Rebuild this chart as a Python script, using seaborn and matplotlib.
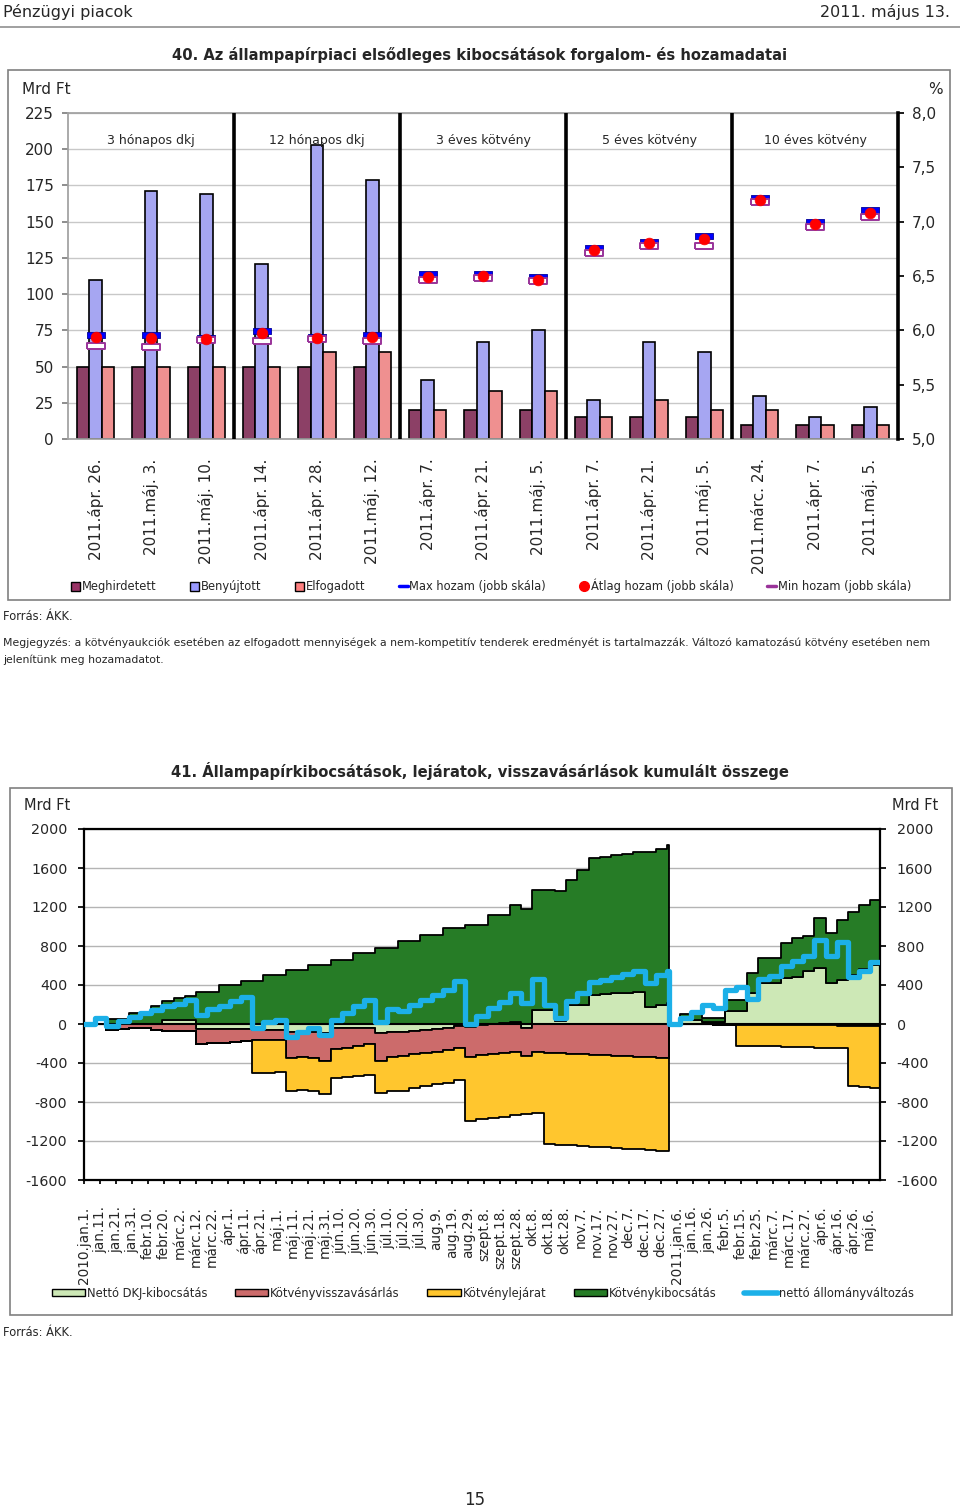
import numpy as np
import pandas as pd
import matplotlib
matplotlib.use("Agg")
import matplotlib.pyplot as plt
from matplotlib.patches import Patch, Rectangle
from matplotlib.lines import Line2D
from matplotlib.ticker import FuncFormatter
import seaborn as sns

# -----------------------------
# 40. chart: auctions (Mrd Ft) and yields (%)
# -----------------------------
auction_dates = ["2011.ápr. 26.", "2011.máj. 3.", "2011.máj. 10.",
                 "2011.ápr. 14.", "2011.ápr. 28.", "2011.máj. 12.",
                 "2011.ápr. 7.", "2011.ápr. 21.", "2011.máj. 5.",
                 "2011.ápr. 7.", "2011.ápr. 21.", "2011.máj. 5.",
                 "2011.márc. 24.", "2011.ápr. 7.", "2011.máj. 5."]
paper_groups = ["3 hónapos dkj", "12 hónapos dkj", "3 éves kötvény", "5 éves kötvény", "10 éves kötvény"]
group_sizes = [3, 3, 3, 3, 3]
announced = [50, 50, 50, 50, 50, 50, 20, 20, 20, 15, 15, 15, 10, 10, 10]
submitted = [110, 171, 169, 121, 203, 179, 41, 67, 75, 27, 67, 60, 30, 15, 22]
accepted = [50, 50, 50, 50, 60, 60, 20, 33, 33, 15, 27, 20, 20, 10, 10]
yield_max = [5.96, 5.96, 5.93, 5.99, 5.94, 5.96, 6.52, 6.52, 6.49, 6.76, 6.81, 6.87, 7.22, 7.00, 7.11]
yield_avg = [5.94, 5.93, 5.92, 5.98, 5.93, 5.94, 6.49, 6.50, 6.46, 6.74, 6.80, 6.84, 7.20, 6.98, 7.08]
yield_min = [5.86, 5.85, 5.91, 5.90, 5.92, 5.90, 6.46, 6.48, 6.45, 6.71, 6.78, 6.78, 7.18, 6.95, 7.04]

# -----------------------------
# 41. chart: cumulative issuance / maturities / buybacks (weekly, Mrd Ft)
# -----------------------------
week_dates = list(pd.date_range("2010-01-01", "2010-12-31", freq="7D")) + \
             list(pd.date_range("2011-01-01", "2011-05-13", freq="7D"))
dkj_net = [0, 0, 0, 0, 0, 0, 0, 40, 46, 46, -55, -55, -50, -50, -50, -60, -60, -60,
           -80, -80, -80, -90, -40, -40, -40, -40, -90, -85, -80, -70, -60, -50, -40, -20,
           -30, -10, 0, 10, 20, -40, 148, 148, 30, 200, 200, 302, 310, 315, 320, 330, 170, 190, 217,
           0, 40, 45, 20, 25, 131, 131, 319, 421, 421, 470, 480, 541, 575, 421, 455, 500, 560, 610]
bond_issue = [0, 0, 53, 53, 114, 114, 183, 200, 219, 244, 326, 326, 398, 398, 446, 446, 507, 507,
              551, 551, 602, 602, 660, 660, 729, 729, 780, 780, 847, 847, 916, 916, 985, 985,
              1019, 1019, 1121, 1111, 1204, 1180, 1231, 1231, 1331, 1280, 1382, 1400, 1405, 1415, 1425, 1430,
              1590, 1610, 1622,
              0, 60, 80, 40, 40, 120, 120, 205, 257, 257, 360, 400, 359, 513, 513, 616, 650, 660, 665]
bond_buyback = [0, 0, -60, -50, -40, -40, -60, -70, -70, -70, -145, -140, -140, -130, -120, -100, -100, -100,
                -267, -260, -265, -290, -220, -210, -190, -160, -290, -255, -250, -240, -240, -240, -230, -230,
                -310, -310, -310, -300, -290, -290, -290, -295, -300, -305, -310, -315, -320, -325, -330, -335,
                -340, -345, -347,
                -2, -3, -4, -5, -6, -7, -8, -9, -10, -10, -11, -12, -13, -14, -15, -16, -18, -20, -22]
bond_maturity = [0] * 15 + [-340, -340, -335, -341, -340, -345, -340, -290, -295, -305, -325, -325, -350, -360,
                            -350, -340, -330, -330, -325, -650, -650, -650, -650, -640, -590, -620, -939, -940,
                            -940, -940, -945, -945, -945, -950, -950, -950, -953, -955] + \
                [0, 0, 0, 0, 0, 0, -215, -215, -218, -220, -222, -224, -226, -228, -230, -232, -620, -625, -630]
net_change = [0, 60, -20, 30, 75, 110, 140, 180, 210, 250, 90, 150, 183, 234, 280, -40, 20, 40,
              -130, -80, -40, -110, 46, 110, 183, 250, 20, 150, 131, 190, 250, 300, 350, 440,
              0, 80, 160, 230, 320, 216, 462, 200, 60, 240, 319, 430, 450, 480, 510, 545, 420, 500, 542,
              0, 63, 120, 200, 160, 353, 380, 260, 460, 490, 590, 650, 695, 866, 695, 840, 480, 540, 640]
tick_labels_41 = ["2010.jan.1.", "jan.11.", "jan.21.", "jan.31.", "febr.10.", "febr.20.", "márc.2.",
                  "márc.12.", "márc.22.", "ápr.1.", "ápr.11.", "ápr.21.", "máj.1.", "máj.11.", "máj.21.",
                  "máj.31.", "jún.10.", "jún.20.", "jún.30.", "júl.10.", "júl.20.", "júl.30.", "aug.9.",
                  "aug.19.", "aug.29.", "szept.8.", "szept.18.", "szept.28.", "okt.8.", "okt.18.", "okt.28.",
                  "nov.7.", "nov.17.", "nov.27.", "dec.7.", "dec.17.", "dec.27.", "2011.jan.6.", "jan.16.",
                  "jan.26.", "febr.5.", "febr.15.", "febr.25.", "márc.7.", "márc.17.", "márc.27.", "ápr.6.",
                  "ápr.16.", "ápr.26.", "máj.6."]

sns.set_theme(style="white")
plt.rcParams["font.family"] = ["DejaVu Sans"]
plt.rcParams["axes.unicode_minus"] = False

W, H = 960, 1511
fig = plt.figure(figsize=(W / 100, H / 100), dpi=100)


def fx(px):
    return px / W


def fy(py):
    return 1 - py / H


def box(x0, y0, x1, y1, color="#808080"):
    fig.add_artist(Rectangle((fx(x0), fy(y1)), fx(x1) - fx(x0), (y1 - y0) / H, fill=False,
                             edgecolor=color, lw=1.2, transform=fig.transFigure))


# page header
fig.text(fx(3), fy(12), "Pénzügyi piacok", fontsize=11.5, va="center", ha="left")
fig.text(fx(950), fy(12), "2011. május 13.", fontsize=11.5, va="center", ha="right")
fig.add_artist(Line2D([0, 1], [fy(27), fy(27)], color="#909090", lw=1.2, transform=fig.transFigure))

# -----------------------------
# chart 40
# -----------------------------
fig.text(fx(480), fy(55), "40. Az állampapírpiaci elsődleges kibocsátások forgalom- és hozamadatai",
         fontsize=10.6, fontweight="bold", ha="center", va="center")
box(8, 70, 950, 600)

ax1 = fig.add_axes([fx(68), fy(439), fx(898) - fx(68), (439 - 113) / H])
n = len(auction_dates)
series_names = ["Meghirdetett", "Benyújtott", "Elfogadott"]
bar_colors = ["#993366", "#9999ff", "#ff8080"]
df_bars = pd.DataFrame({
    "pos": list(range(n)) * 3,
    "series": np.repeat(series_names, n),
    "value": announced + submitted + accepted,
})
sns.barplot(data=df_bars, x="pos", y="value", hue="series", hue_order=series_names,
            palette=bar_colors, width=0.68, edgecolor="black", linewidth=1.2,
            ax=ax1, legend=False, zorder=2)
ax1.set_xlim(-0.5, n - 0.5)
ax1.set_ylim(0, 225)
ax1.set_yticks(range(0, 226, 25))
ax1.yaxis.grid(True, color="#c8c8c8", lw=1)
ax1.set_axisbelow(True)
ax1.set_xticks(range(n))
ax1.set_xticklabels(auction_dates, rotation=90, fontsize=11, va="top")
ax1.tick_params(axis="x", length=0, pad=14)
ax1.tick_params(axis="y", length=4, color="#808080", labelsize=11, pad=6, left=True)
ax1.set_xlabel("")
ax1.set_ylabel("")
for s in ["left", "bottom", "top"]:
    ax1.spines[s].set_color("#a0a0a0")
ax1.spines["right"].set_visible(False)

bounds = np.cumsum(group_sizes)[:-1] - 0.5
for b in bounds:
    ax1.axvline(b, color="black", lw=2.6, zorder=3)
starts = np.concatenate([[0], np.cumsum(group_sizes)[:-1]])
for name, st, sz in zip(paper_groups, starts, group_sizes):
    ax1.text(st + (sz - 1) / 2, 206, name, ha="center", va="center", fontsize=9)

ax2 = ax1.twinx()
ax2.set_ylim(5.0, 8.0)
ax2.set_yticks(np.arange(5.0, 8.01, 0.5))
ax2.yaxis.set_major_formatter(FuncFormatter(lambda v, p: f"{v:.1f}".replace(".", ",")))
ax2.tick_params(axis="y", length=4, labelsize=11, pad=6, right=True, color="black")
ax2.grid(False)
for s in ["left", "bottom", "top"]:
    ax2.spines[s].set_visible(False)
ax2.spines["right"].set_color("black")
ax2.spines["right"].set_linewidth(2.6)

rect = [(-1, -0.33), (1, -0.33), (1, 0.33), (-1, 0.33), (-1, -0.33)]
pos = np.arange(n)
sns.scatterplot(x=pos, y=yield_max, marker=rect, s=170, color="#0000ff", edgecolor="#000099",
                linewidth=0.6, ax=ax2, legend=False, zorder=4)
sns.scatterplot(x=pos, y=yield_min, marker=rect, s=170, color="white", edgecolor="#993399",
                linewidth=1.4, ax=ax2, legend=False, zorder=5)
sns.scatterplot(x=pos, y=yield_avg, marker="o", s=60, color="#ff0000", edgecolor="#ff0000",
                linewidth=0.5, ax=ax2, legend=False, zorder=6)
ax2.set_xlim(-0.5, n - 0.5)

fig.text(fx(22), fy(90), "Mrd Ft", fontsize=11, va="center", ha="left")
fig.text(fx(943), fy(90), "%", fontsize=11, va="center", ha="right")

h40 = [Patch(facecolor=c, edgecolor="black", lw=1) for c in bar_colors] + [
    Line2D([], [], color="#0000ff", lw=2.5),
    Line2D([], [], color="#ff0000", marker="o", ls="none", markersize=7),
    Line2D([], [], color="#993399", lw=2.5)]
l40 = series_names + ["Max hozam (jobb skála)", "Átlag hozam (jobb skála)", "Min hozam (jobb skála)"]
fig.legend(h40, l40, loc="center", bbox_to_anchor=(fx(491), fy(586)), ncol=6, frameon=False,
           fontsize=8.3, handlelength=0.8, handleheight=0.8, handletextpad=0.15, columnspacing=2.9)

fig.text(fx(3), fy(617), "Forrás: ÁKK.", fontsize=8.3, va="center", ha="left")
fig.text(fx(3), fy(643),
         "Megjegyzés: a kötvényaukciók esetében az elfogadott mennyiségek a nem-kompetitív tenderek "
         "eredményét is tartalmazzák. Változó kamatozású kötvény esetében nem",
         fontsize=7.8, va="center", ha="left")
fig.text(fx(3), fy(660), "jelenítünk meg hozamadatot.", fontsize=7.8, va="center", ha="left")

# -----------------------------
# chart 41
# -----------------------------
fig.text(fx(480), fy(771), "41. Állampapírkibocsátások, lejáratok, visszavásárlások kumulált összege",
         fontsize=10.6, fontweight="bold", ha="center", va="center")
box(10, 788, 952, 1315)

ax3 = fig.add_axes([fx(84), fy(1180), fx(880) - fx(84), (1180 - 829) / H])
x_end = pd.Timestamp("2011-05-13")
xs = pd.DatetimeIndex(week_dates + [x_end])


def ext(v):
    v = np.asarray(v, dtype=float)
    return np.append(v, v[-1])


dkj = ext(dkj_net)
dkj_pos = np.clip(dkj, 0, None)
dkj_neg = np.clip(dkj, None, 0)
kib_top = dkj_pos + ext(bond_issue)
vis_bot = dkj_neg + ext(bond_buyback)
lej_bot = vis_bot + ext(bond_maturity)

c_dkj, c_vis, c_lej, c_kib, c_net = "#cde8b6", "#cc6b6b", "#ffc62e", "#267c26", "#1cb0e8"
edge = dict(edgecolor="black", linewidth=1.3, step="post")
ax3.fill_between(xs, 0, dkj_pos, facecolor=c_dkj, zorder=2, **edge)
ax3.fill_between(xs, dkj_pos, kib_top, facecolor=c_kib, zorder=2, **edge)
ax3.fill_between(xs, dkj_neg, 0, facecolor=c_dkj, zorder=2, **edge)
ax3.fill_between(xs, vis_bot, dkj_neg, facecolor=c_vis, zorder=2, **edge)
ax3.fill_between(xs, lej_bot, vis_bot, facecolor=c_lej, zorder=2, **edge)
ax3.axhline(0, color="black", lw=1.5, zorder=3)
sns.lineplot(x=xs, y=ext(net_change), drawstyle="steps-post", color=c_net, lw=3.8, ax=ax3, zorder=4)

ax3.set_xlim(pd.Timestamp("2010-01-01"), x_end)
ax3.set_ylim(-1600, 2000)
ax3.set_yticks(range(-1600, 2001, 400))
ax3.yaxis.grid(True, color="#b4b4b4", lw=1)
ax3.set_axisbelow(True)
ax3.set_xticks(pd.date_range("2010-01-01", periods=len(tick_labels_41), freq="10D"))
ax3.set_xticklabels(tick_labels_41, rotation=90, fontsize=9.8, va="top")
ax3.tick_params(axis="x", length=3, pad=16, bottom=True, color="black")
ax3.tick_params(axis="y", length=4, labelsize=10.3, pad=8, left=True, right=True,
                labelleft=True, labelright=True, color="black")
ax3.set_xlabel("")
ax3.set_ylabel("")
for s in ax3.spines.values():
    s.set_color("black")
    s.set_linewidth(1.6)

fig.text(fx(47), fy(806), "Mrd Ft", fontsize=10.5, va="center", ha="center")
fig.text(fx(915), fy(806), "Mrd Ft", fontsize=10.5, va="center", ha="center")

h41 = [Patch(facecolor=c, edgecolor="black", lw=1) for c in [c_dkj, c_vis, c_lej, c_kib]] + \
      [Line2D([], [], color=c_net, lw=4)]
l41 = ["Nettó DKJ-kibocsátás", "Kötvényvisszavásárlás", "Kötvénylejárat", "Kötvénykibocsátás",
       "nettó állományváltozás"]
fig.legend(h41, l41, loc="center", bbox_to_anchor=(fx(483), fy(1293)), ncol=5, frameon=False,
           fontsize=8.3, handlelength=2.9, handleheight=0.55, handletextpad=0.15, columnspacing=2.4)

fig.text(fx(3), fy(1333), "Forrás: ÁKK.", fontsize=8.3, va="center", ha="left")
fig.text(fx(475), fy(1500), "15", fontsize=12, va="center", ha="center")

fig.savefig("out.png", dpi=100)
